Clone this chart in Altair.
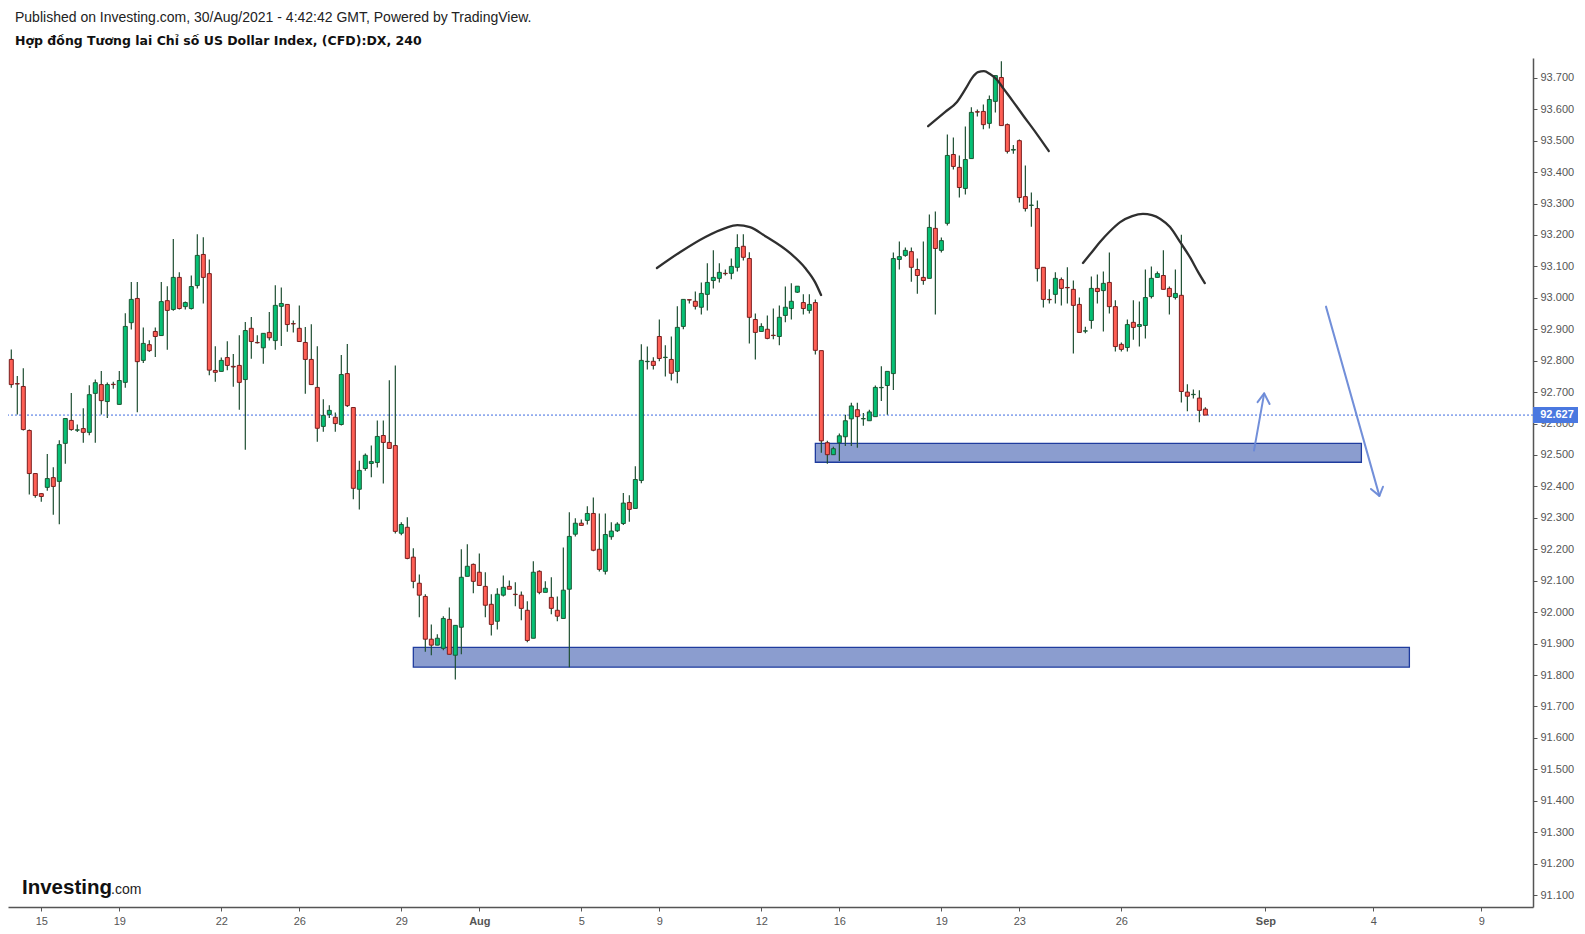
import json
import altair as alt
import pandas as pd

# ---------------- data ----------------
open_ = [92.804, 92.727, 92.718, 92.578, 92.441, 92.377, 92.397, 92.428, 92.416, 92.537,
         92.610, 92.579, 92.584, 92.572, 92.696, 92.724, 92.670, 92.725, 92.661, 92.731,
         92.921, 92.998, 92.801, 92.851, 92.893, 92.880, 92.991, 92.963, 93.065, 92.972,
         92.966, 93.039, 93.138, 93.077, 92.769, 92.766, 92.810, 92.782, 92.785, 92.740,
         92.903, 92.858, 92.841, 92.890, 92.864, 92.973, 92.979, 92.918, 92.903, 92.858,
         92.804, 92.715, 92.591, 92.629, 92.620, 92.597, 92.759, 92.651, 92.391, 92.457,
         92.473, 92.476, 92.562, 92.540, 92.530, 92.251, 92.270, 92.175, 92.092, 92.050,
         91.914, 91.895, 91.885, 91.977, 91.863, 91.952, 92.114, 92.152, 92.127, 92.082,
         92.025, 91.971, 92.054, 92.082, 92.057, 92.054, 92.006, 91.917, 92.130, 92.063,
         92.047, 92.006, 91.980, 92.073, 92.248, 92.283, 92.292, 92.314, 92.200, 92.130,
         92.240, 92.259, 92.282, 92.349, 92.330, 92.419, 92.797, 92.798, 92.877, 92.810,
         92.804, 92.766, 92.909, 92.994, 92.989, 92.970, 93.011, 93.055, 93.062, 93.078,
         93.078, 93.097, 93.164, 93.125, 92.931, 92.893, 92.900, 92.881, 92.877, 92.944,
         92.966, 93.018, 92.985, 92.960, 92.985, 92.832, 92.539, 92.501, 92.539, 92.558,
         92.615, 92.644, 92.615, 92.609, 92.622, 92.714, 92.721, 92.759, 93.122, 93.135,
         93.147, 93.090, 93.065, 93.062, 93.221, 93.151, 93.237, 93.456, 93.415, 93.348,
         93.443, 93.592, 93.593, 93.555, 93.625, 93.701, 93.551, 93.470, 93.500, 93.322,
         93.294, 93.284, 93.097, 92.995, 93.011, 93.058, 93.033, 93.027, 92.979, 92.894,
         92.928, 93.030, 93.023, 93.049, 92.972, 92.852, 92.842, 92.922, 92.909, 92.912,
         93.004, 93.065, 93.071, 93.030, 93.001, 93.008, 92.700, 92.692, 92.681, 92.646]
high = [92.836, 92.751, 92.776, 92.581, 92.441, 92.378, 92.503, 92.461, 92.547, 92.617,
        92.697, 92.597, 92.649, 92.722, 92.740, 92.767, 92.731, 92.733, 92.767, 92.951,
        93.050, 93.050, 92.906, 92.865, 92.906, 93.050, 93.037, 93.187, 93.081, 92.988,
        93.071, 93.202, 93.193, 93.122, 92.846, 92.810, 92.862, 92.821, 92.881, 92.923,
        92.939, 92.881, 92.887, 92.955, 93.040, 93.033, 92.979, 92.928, 92.976, 92.907,
        92.916, 92.846, 92.677, 92.658, 92.635, 92.818, 92.853, 92.651, 92.482, 92.505,
        92.530, 92.610, 92.610, 92.738, 92.785, 92.286, 92.302, 92.203, 92.120, 92.057,
        91.961, 91.930, 91.987, 92.015, 91.958, 92.200, 92.216, 92.155, 92.187, 92.127,
        92.057, 92.076, 92.117, 92.101, 92.095, 92.066, 92.035, 92.162, 92.133, 92.098,
        92.111, 92.050, 92.206, 92.318, 92.299, 92.295, 92.337, 92.365, 92.314, 92.314,
        92.286, 92.286, 92.379, 92.372, 92.464, 92.852, 92.845, 92.811, 92.931, 92.849,
        92.877, 92.973, 92.995, 92.995, 93.020, 93.049, 93.110, 93.151, 93.110, 93.090,
        93.125, 93.202, 93.202, 93.145, 92.950, 92.919, 92.944, 92.966, 92.976, 93.036,
        93.046, 93.037, 93.011, 93.011, 92.995, 92.832, 92.545, 92.526, 92.568, 92.628,
        92.666, 92.666, 92.634, 92.644, 92.721, 92.782, 92.766, 93.144, 93.179, 93.160,
        93.160, 93.125, 93.179, 93.265, 93.275, 93.192, 93.520, 93.510, 93.453, 93.545,
        93.606, 93.599, 93.615, 93.644, 93.707, 93.753, 93.555, 93.486, 93.504, 93.421,
        93.335, 93.310, 93.097, 93.027, 93.081, 93.065, 93.097, 93.055, 93.001, 92.908,
        93.068, 93.074, 93.084, 93.144, 92.992, 92.858, 92.931, 92.992, 92.988, 93.090,
        93.100, 93.084, 93.151, 93.036, 93.090, 93.201, 92.725, 92.708, 92.706, 92.652]
low = [92.714, 92.629, 92.578, 92.374, 92.364, 92.351, 92.386, 92.310, 92.280, 92.472,
       92.577, 92.573, 92.539, 92.563, 92.539, 92.629, 92.618, 92.711, 92.661, 92.714,
       92.899, 92.636, 92.793, 92.828, 92.812, 92.880, 92.835, 92.959, 92.963, 92.963,
       92.963, 93.030, 92.982, 92.754, 92.733, 92.766, 92.770, 92.717, 92.644, 92.517,
       92.806, 92.855, 92.790, 92.864, 92.835, 92.847, 92.892, 92.890, 92.861, 92.695,
       92.724, 92.542, 92.574, 92.618, 92.574, 92.594, 92.653, 92.359, 92.327, 92.450,
       92.429, 92.460, 92.409, 92.521, 92.250, 92.245, 92.168, 92.076, 91.984, 91.874,
       91.863, 91.895, 91.879, 91.866, 91.786, 91.866, 92.114, 92.060, 92.085, 91.984,
       91.926, 91.945, 92.050, 92.073, 92.019, 91.974, 91.904, 91.917, 92.057, 92.063,
       91.993, 91.971, 91.980, 91.825, 92.241, 92.276, 92.279, 92.194, 92.129, 92.120,
       92.230, 92.255, 92.277, 92.288, 92.330, 92.410, 92.772, 92.772, 92.798, 92.750,
       92.737, 92.728, 92.900, 92.982, 92.963, 92.947, 92.960, 93.030, 93.049, 93.071,
       93.059, 93.084, 93.119, 92.855, 92.804, 92.893, 92.868, 92.868, 92.849, 92.922,
       92.931, 93.015, 92.947, 92.950, 92.820, 92.507, 92.472, 92.501, 92.481, 92.529,
       92.529, 92.523, 92.593, 92.609, 92.622, 92.672, 92.628, 92.707, 93.090, 93.131,
       93.051, 93.013, 93.042, 93.062, 92.947, 93.144, 93.230, 93.408, 93.319, 93.329,
       93.443, 93.577, 93.536, 93.539, 93.590, 93.548, 93.459, 93.458, 93.303, 93.275,
       93.226, 93.052, 92.969, 92.982, 92.982, 92.976, 92.982, 92.823, 92.890, 92.887,
       92.902, 92.982, 92.893, 92.950, 92.829, 92.829, 92.829, 92.867, 92.845, 92.871,
       92.998, 93.065, 93.027, 92.947, 92.995, 92.667, 92.639, 92.680, 92.604, 92.627]
close = [92.724, 92.726, 92.581, 92.441, 92.371, 92.368, 92.425, 92.400, 92.533, 92.616,
         92.581, 92.580, 92.572, 92.692, 92.730, 92.673, 92.724, 92.724, 92.737, 92.909,
         92.995, 92.797, 92.855, 92.832, 92.877, 92.988, 92.960, 93.065, 92.966, 92.985,
         93.036, 93.135, 93.065, 92.770, 92.763, 92.801, 92.785, 92.780, 92.731, 92.896,
         92.861, 92.857, 92.887, 92.873, 92.976, 92.982, 92.915, 92.917, 92.861, 92.804,
         92.724, 92.585, 92.626, 92.642, 92.600, 92.756, 92.657, 92.394, 92.451, 92.499,
         92.479, 92.559, 92.540, 92.521, 92.257, 92.279, 92.171, 92.098, 92.054, 91.914,
         91.895, 91.917, 91.980, 91.866, 91.958, 92.111, 92.146, 92.098, 92.085, 92.022,
         91.961, 92.057, 92.079, 92.073, 92.056, 92.012, 91.910, 92.127, 92.063, 92.076,
         92.012, 91.987, 92.070, 92.241, 92.283, 92.276, 92.314, 92.197, 92.136, 92.247,
         92.258, 92.280, 92.347, 92.327, 92.422, 92.801, 92.798, 92.785, 92.807, 92.811,
         92.760, 92.906, 92.995, 92.993, 92.973, 93.014, 93.049, 93.065, 93.081, 93.077,
         93.100, 93.160, 93.129, 92.938, 92.890, 92.909, 92.871, 92.880, 92.938, 92.970,
         92.989, 93.037, 92.966, 92.979, 92.833, 92.545, 92.501, 92.520, 92.561, 92.609,
         92.656, 92.622, 92.616, 92.637, 92.715, 92.715, 92.766, 93.125, 93.131, 93.151,
         93.097, 93.071, 93.055, 93.224, 93.157, 93.182, 93.453, 93.418, 93.351, 93.440,
         93.590, 93.591, 93.551, 93.631, 93.707, 93.548, 93.466, 93.472, 93.319, 93.284,
         93.295, 93.093, 92.995, 92.994, 93.062, 93.030, 93.032, 92.976, 92.890, 92.895,
         93.030, 93.020, 93.046, 92.972, 92.845, 92.836, 92.915, 92.906, 92.915, 93.001,
         93.062, 93.077, 93.027, 93.004, 93.014, 92.702, 92.687, 92.693, 92.642, 92.627]

last_price = 92.627

# x axis: bar index of each date label, and the labels
x_tick_pos = [5, 18, 35, 48, 65, 78, 95, 108, 125, 138, 155, 168, 185, 209, 227, 245]
x_tick_lab = ["15", "19", "22", "26", "29", "Aug", "5", "9", "12", "16", "19", "23", "26", "Sep", "4", "9"]
y_ticks = [91.1, 91.2, 91.3, 91.4, 91.5, 91.6, 91.7, 91.8, 91.9, 92.0, 92.1, 92.2, 92.3, 92.4,
           92.5, 92.6, 92.7, 92.8, 92.9, 93.0, 93.1, 93.2, 93.3, 93.4, 93.5, 93.6, 93.7]

# support zones (bar index span, price span)
zone_x0 = [134.0, 67.0]
zone_x1 = [225.0, 233.0]
zone_top = [92.537, 91.888]
zone_bot = [92.477, 91.825]

# hand-drawn head & shoulders arcs (bar index, price)
ls_x = [107.6, 111.5, 115.6, 119.0, 121.0, 123.1, 125.6, 129.8, 132.3, 133.95, 134.95]
ls_y = [93.095, 93.146, 93.193, 93.222, 93.231, 93.225, 93.197, 93.142, 93.095, 93.050, 93.009]
hd_x = [152.8, 155.6, 157.6, 159.1, 160.1, 161.1, 162.1, 163.1, 164.3, 165.3, 166.9, 168.6, 170.8, 172.9]
hd_y = [93.546, 93.591, 93.623, 93.667, 93.699, 93.718, 93.721, 93.712, 93.693, 93.667, 93.626, 93.581, 93.524, 93.467]
rs_x = [178.6, 180.1, 181.4, 183.1, 184.8, 186.8, 188.6, 190.1, 191.5, 193.1, 194.8, 196.5, 197.8, 198.9]
rs_y = [93.111, 93.146, 93.177, 93.212, 93.241, 93.260, 93.267, 93.263, 93.251, 93.225, 93.177, 93.127, 93.082, 93.047]

# arrows: tail, tip, head-left, head-right (bar index, price)
up_arrow_x = [207.1, 208.8, 207.7, 209.7]
up_arrow_y = [92.514, 92.696, 92.668, 92.662]
dn_arrow_x = [219.1, 228.0, 226.6, 228.6]
dn_arrow_y = [92.972, 92.370, 92.392, 92.399]

header = "Published on Investing.com, 30/Aug/2021 - 4:42:42 GMT, Powered by TradingView."
title = "Hợp đồng Tương lai Chỉ số US Dollar Index, (CFD):DX, 240"

# ---------------- tables ----------------
n = len(open_)
candles = pd.DataFrame({
    "x": list(range(n)), "open": open_, "high": high, "low": low, "close": close,
})
candles["dir"] = ["up" if c >= o else "down" for o, c in zip(open_, close)]

zones = pd.DataFrame({"x": zone_x0, "x2": zone_x1, "y": zone_top, "y2": zone_bot})

curve_rows = []
for name, xs_, ys_ in [("ls", ls_x, ls_y), ("hd", hd_x, hd_y), ("rs", rs_x, rs_y)]:
    for k, (a, b) in enumerate(zip(xs_, ys_)):
        curve_rows.append({"g": name, "o": k, "x": a, "y": b})
curves = pd.DataFrame(curve_rows)

arrow_rows = []
for name, xs_, ys_ in [("up", up_arrow_x, up_arrow_y), ("dn", dn_arrow_x, dn_arrow_y)]:
    arrow_rows += [{"g": name + "_s", "o": 0, "x": xs_[0], "y": ys_[0]},
                   {"g": name + "_s", "o": 1, "x": xs_[1], "y": ys_[1]},
                   {"g": name + "_h", "o": 0, "x": xs_[2], "y": ys_[2]},
                   {"g": name + "_h", "o": 1, "x": xs_[1], "y": ys_[1]},
                   {"g": name + "_h", "o": 2, "x": xs_[3], "y": ys_[3]}]
arrows = pd.DataFrame(arrow_rows)

price_df = pd.DataFrame({"y": [last_price], "t": [f"{last_price:.3f}"]})

# ---------------- layout ----------------
PLOT_W, PLOT_H = 1525, 849
XDOM = [-0.55, 253.6]
YDOM = [91.062, 93.763]
AXIS_GRAY = "#555555"

label_expr = "{}[indexof({}, datum.value)]".format(json.dumps(x_tick_lab), json.dumps(x_tick_pos))
bold_test = " || ".join(
    f"datum.value == {p}" for p, l in zip(x_tick_pos, x_tick_lab) if not l.isdigit()
)

x_axis = alt.Axis(
    values=x_tick_pos, labelExpr=label_expr, title=None, grid=False,
    tickSize=4, tickColor=AXIS_GRAY, domainColor=AXIS_GRAY, domainWidth=1.5,
    labelFont="Liberation Sans", labelFontSize=11, labelColor=AXIS_GRAY, labelPadding=4,
    labelFlush=False, labelOverlap=False,
    labelFontWeight={"condition": {"test": bold_test, "value": "bold"}, "value": "normal"},
)
y_axis = alt.Axis(
    orient="right", values=y_ticks, format=".3f", title=None, grid=False,
    tickSize=4, tickColor=AXIS_GRAY, domainColor=AXIS_GRAY, domainWidth=1.5,
    labelFont="Liberation Sans", labelFontSize=11, labelColor=AXIS_GRAY, labelPadding=3,
    labelOverlap=False,
)
xs = alt.Scale(domain=XDOM, nice=False, zero=False, padding=0)
ys = alt.Scale(domain=YDOM, nice=False, zero=False, padding=0)


def X(field):
    return alt.X(f"{field}:Q", scale=xs, axis=x_axis)


def Y(field):
    return alt.Y(f"{field}:Q", scale=ys, axis=y_axis)


zone_layer = alt.Chart(zones).mark_rect(
    fill="#8b9dcf", stroke="#1f3c9e", strokeWidth=1.3
).encode(x=X("x"), x2="x2:Q", y=Y("y"), y2="y2:Q")

price_line = alt.Chart(price_df).mark_rule(
    color="#3d6ae0", strokeDash=[2, 2], strokeWidth=1
).encode(y=Y("y"))

wicks = alt.Chart(candles).mark_rule(color="#1f4f33", strokeWidth=1.2).encode(
    x=X("x"), y=Y("low"), y2="high:Q"
)

bodies = alt.Chart(candles).mark_bar(size=4, strokeWidth=1).encode(
    x=X("x"), y=Y("open"), y2="close:Q",
    fill=alt.Fill("dir:N", scale=alt.Scale(domain=["up", "down"], range=["#05c075", "#fe5f55"]), legend=None),
    stroke=alt.Stroke("dir:N", scale=alt.Scale(domain=["up", "down"], range=["#1c5834", "#7a1d1d"]), legend=None),
)

curve_layer = alt.Chart(curves).mark_line(
    color="#2f2f2f", strokeWidth=2.3, interpolate="monotone", strokeCap="round"
).encode(x=X("x"), y=Y("y"), detail="g:N", order="o:Q")

arrow_layer = alt.Chart(arrows).mark_line(
    color="#6a89d7", strokeWidth=2, opacity=0.95, strokeCap="round", strokeJoin="round"
).encode(x=X("x"), y=Y("y"), detail="g:N", order="o:Q")

price_box = alt.Chart(price_df).mark_tick(
    orient="horizontal", size=45, thickness=16, color="#4a78e0", opacity=1
).encode(x=alt.value(PLOT_W + 22.5), y=Y("y"))

price_txt = alt.Chart(price_df).mark_text(
    color="white", font="Liberation Sans", fontSize=11, fontWeight="bold", align="center", baseline="middle"
).encode(x=alt.value(PLOT_W + 24), y=Y("y"), text="t:N")

head_df = pd.DataFrame({"t": [header]})
header_txt = alt.Chart(head_df).mark_text(
    align="left", baseline="alphabetic", font="Liberation Sans", fontSize=14, color="#222222"
).encode(x=alt.value(7), y=alt.value(-36.5), text="t:N")

title_df = pd.DataFrame({"t": [title]})
title_txt = alt.Chart(title_df).mark_text(
    align="left", baseline="alphabetic", font="DejaVu Sans", fontSize=12.5, fontWeight="bold", color="#111111"
).encode(x=alt.value(7), y=alt.value(-13), text="t:N")

logo_df = pd.DataFrame({"t": ["Investing"]})
logo_txt = alt.Chart(logo_df).mark_text(
    align="left", baseline="alphabetic", font="Liberation Sans", fontSize=20.5, fontWeight="bold",
    color="#111111"
).encode(x=alt.value(14), y=alt.value(836), text="t:N")

com_df = pd.DataFrame({"t": [".com"]})
com_txt = alt.Chart(com_df).mark_text(
    align="left", baseline="alphabetic", font="Liberation Sans", fontSize=14, color="#222222"
).encode(x=alt.value(103), y=alt.value(836), text="t:N")

chart = alt.layer(
    zone_layer, price_line, wicks, bodies, curve_layer, arrow_layer,
    price_box, price_txt, header_txt, title_txt, logo_txt, com_txt,
).properties(
    width=PLOT_W, height=PLOT_H,
    padding={"left": 8, "top": 58, "right": 52, "bottom": 27},
    autosize=alt.AutoSizeParams(type="none"),
    background="white",
).configure_view(stroke=None)

chart.save("out.html", embed_options={"renderer": "svg", "actions": False})
